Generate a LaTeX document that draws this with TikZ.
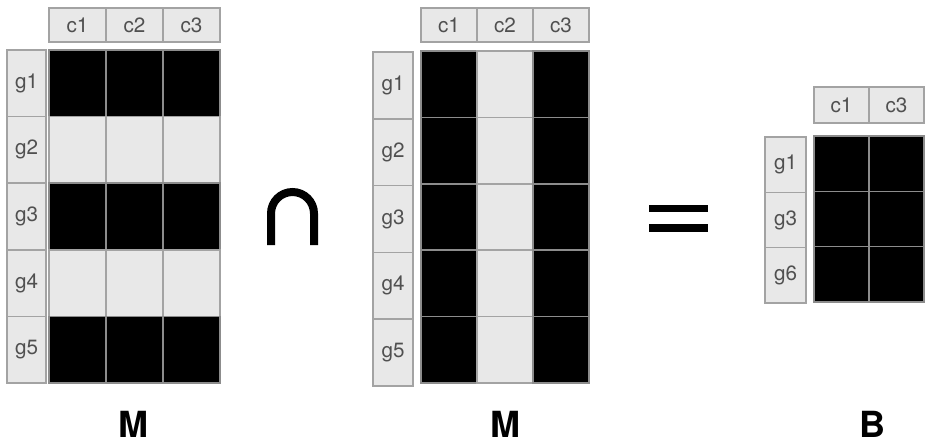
\documentclass[tikz,border=0pt]{standalone}
\usepackage{fontspec}
\setmainfont{TeX Gyre Heros}
\definecolor{cellgray}{HTML}{E8E8E8}
\definecolor{edgegray}{HTML}{A3A3A3}
\definecolor{gridgray}{HTML}{8C8C8C}
\definecolor{labelgray}{HTML}{505050}
\begin{document}
\begin{tikzpicture}[x=0.75pt,y=-0.75pt,
  hdr/.style={draw=edgegray, fill=cellgray, line width=1.1pt, inner sep=0pt, outer sep=0pt,
    text=labelgray, font=\fontsize{15.5}{17}\selectfont},
  cellon/.style={draw=gridgray, fill=black, line width=1.1pt, inner sep=0pt, outer sep=0pt},
  celloff/.style={draw=edgegray, fill=cellgray, line width=1.1pt, inner sep=0pt, outer sep=0pt},
  title/.style={font=\fontsize{27}{30}\selectfont\bfseries, inner sep=0pt}]
\useasboundingbox (0,0) rectangle (925,443);

% ---- first matrix M: rows g1, g3, g5 set ----
\foreach \c in {1,2,3}
  \node[hdr, minimum width=42.75pt, minimum height=25.5pt] (Lh\c) at ({49+57*(\c-0.5)},25) {c\c};
\foreach \r in {1,...,5} {
  \node[hdr, minimum width=29.25pt, minimum height=49.95pt] (Lg\r) at (26.5,{50+66.6*(\r-0.5)}) {g\r};
  \foreach \c in {1,2,3} {
    \ifodd\r
      \node[cellon, minimum width=42.75pt, minimum height=49.95pt] (L\r\c) at ({49+57*(\c-0.5)},{50+66.6*(\r-0.5)}) {};
    \else
      \node[celloff, minimum width=42.75pt, minimum height=49.95pt] (L\r\c) at ({49+57*(\c-0.5)},{50+66.6*(\r-0.5)}) {};
    \fi
  }
}
\node[title] (M1) at (133,424) {M};

% ---- intersection sign ----
\draw[line width=6pt, line cap=butt] (271,245) -- (271,213.5)
  arc[start angle=180, end angle=360, radius=21.5] -- (314,245);

% ---- second matrix M: columns c1, c3 set ----
\foreach \c in {1,2,3}
  \node[hdr, minimum width=42pt, minimum height=25.5pt] (Mh\c) at ({421+56*(\c-0.5)},25) {c\c};
\foreach \r in {1,...,5} {
  \node[hdr, minimum width=30pt, minimum height=50.1pt] (Mg\r) at (393,{52+66.8*(\r-0.5)}) {g\r};
  \foreach \c in {1,2,3} {
    \ifodd\c
      \node[cellon, minimum width=42pt, minimum height=49.8pt] (M\r\c) at ({421+56*(\c-0.5)},{51+66.4*(\r-0.5)}) {};
    \else
      \node[celloff, minimum width=42pt, minimum height=49.8pt] (M\r\c) at ({421+56*(\c-0.5)},{51+66.4*(\r-0.5)}) {};
    \fi
  }
}
\node[title] (M2) at (505,424) {M};

% ---- equals sign ----
\fill (649,205) rectangle (708,212);
\fill (649,224) rectangle (708,232);

% ---- result bicluster B ----
\foreach \c/\t in {1/c1,2/c3}
  \node[hdr, minimum width=41.25pt, minimum height=27pt] (Bh\c) at ({814+55*(\c-0.5)},105) {\t};
\foreach \r/\t in {1/g1,2/g3,3/g6} {
  \node[hdr, minimum width=30.75pt, minimum height=41.5pt] (Bg\r) at (785.5,{137+55.3*(\r-0.5)}) {\t};
  \foreach \c in {1,2}
    \node[cellon, minimum width=41.25pt, minimum height=41.5pt] (B\r\c) at ({814+55*(\c-0.5)},{136+55.3*(\r-0.5)}) {};
}
\node[title] (B) at (872,424) {B};
\end{tikzpicture}
\end{document}
